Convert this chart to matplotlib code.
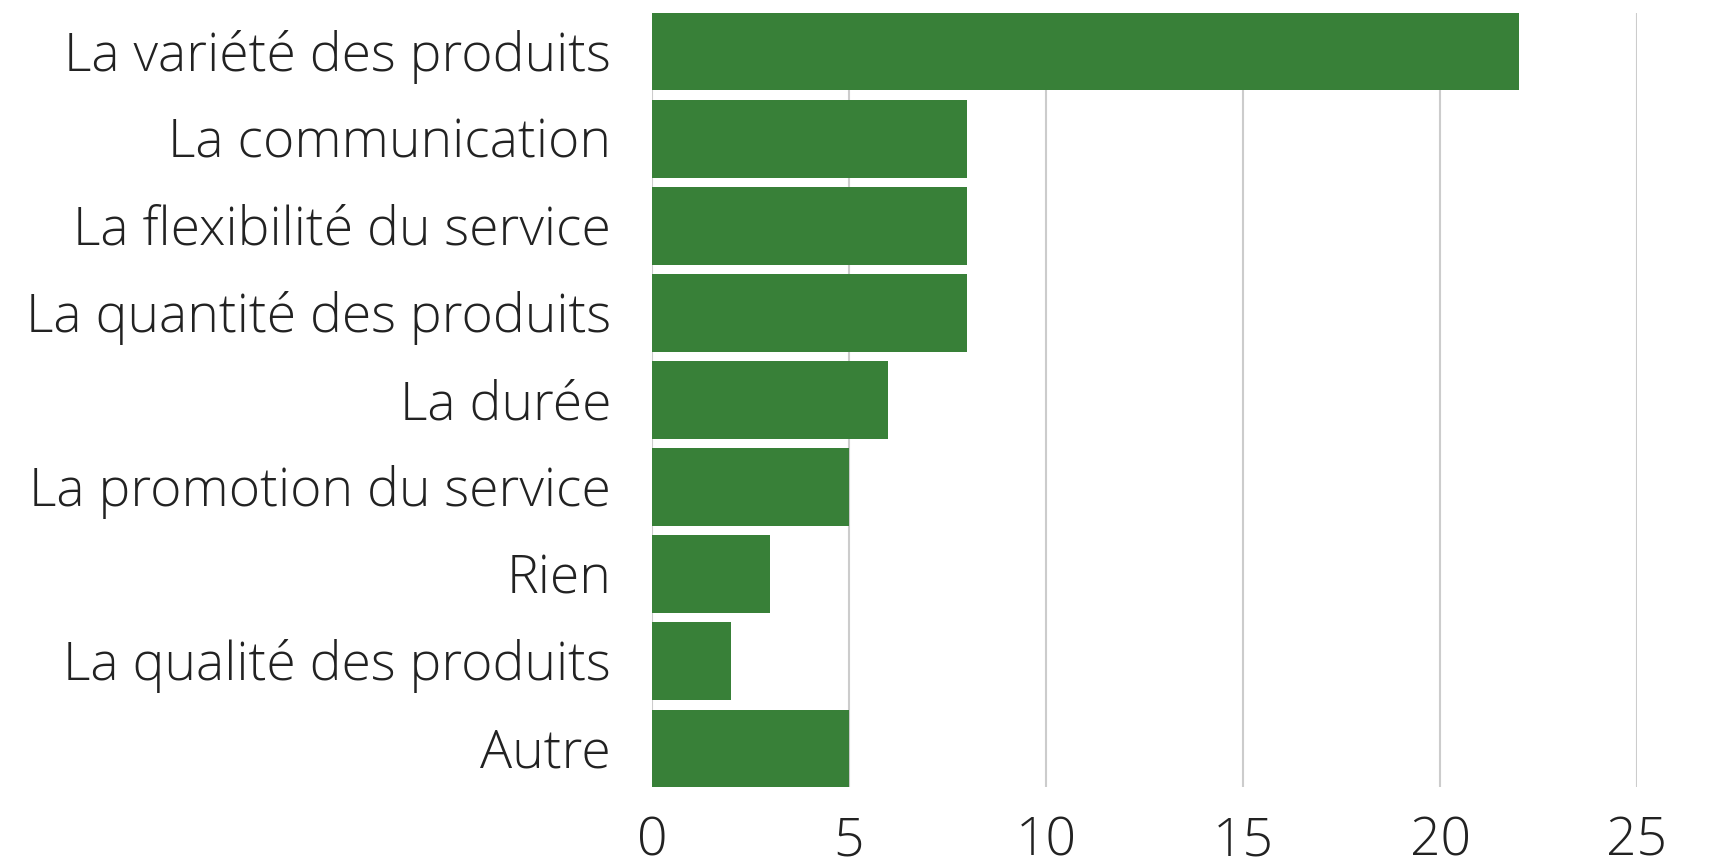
import matplotlib
matplotlib.use("Agg")
import matplotlib.pyplot as plt
from matplotlib import font_manager as fm

categories = [
    "La variété des produits",
    "La communication",
    "La flexibilité du service",
    "La quantité des produits",
    "La durée",
    "La promotion du service",
    "Rien",
    "La qualité des produits",
    "Autre",
]
counts = [22, 8, 8, 8, 6, 5, 3, 2, 5]
xticks = [0, 5, 10, 15, 20, 25]

# pick Open Sans Light by file, so the condensed light cut is not used
light = [f.fname for f in fm.fontManager.ttflist if f.fname.endswith('OpenSans-Light.ttf')]
if light:
    fp = fm.FontProperties(fname=light[0], size=38.5)
else:
    fp = fm.FontProperties(family='Open Sans', weight='light', size=38.5)

fig = plt.figure(figsize=(17.1, 8.65), dpi=100)
ax = fig.add_axes([652 / 1710, 1 - 787 / 865, (1637 - 652) / 1710, (787 - 13) / 865])

bar_h = 0.89
ax.barh(range(len(categories)), counts, height=bar_h, color='#388038', zorder=3)

ax.set_xlim(0, 25)
ax.set_ylim(len(categories) - 1 + bar_h / 2, -bar_h / 2)
ax.set_xticks(xticks)
ax.set_yticks(range(len(categories)))
ax.set_yticklabels([])
ax.grid(axis='x', color='#cccccc', linewidth=1.5, zorder=0)
ax.grid(axis='y', visible=False)
for s in ax.spines.values():
    s.set_visible(False)
ax.tick_params(axis='both', length=0, colors='#222222')
ax.tick_params(axis='x', pad=20)
for lab in ax.get_xticklabels():
    lab.set_fontproperties(fp)

# category labels, cap height centred on each bar
for i, c in enumerate(categories):
    ax.annotate(c, xy=(0, i), xycoords=('axes fraction', 'data'),
                xytext=(-41, -19), textcoords='offset pixels',
                ha='right', va='baseline', fontproperties=fp, color='#222222')

fig.savefig('out.png', dpi=100)
